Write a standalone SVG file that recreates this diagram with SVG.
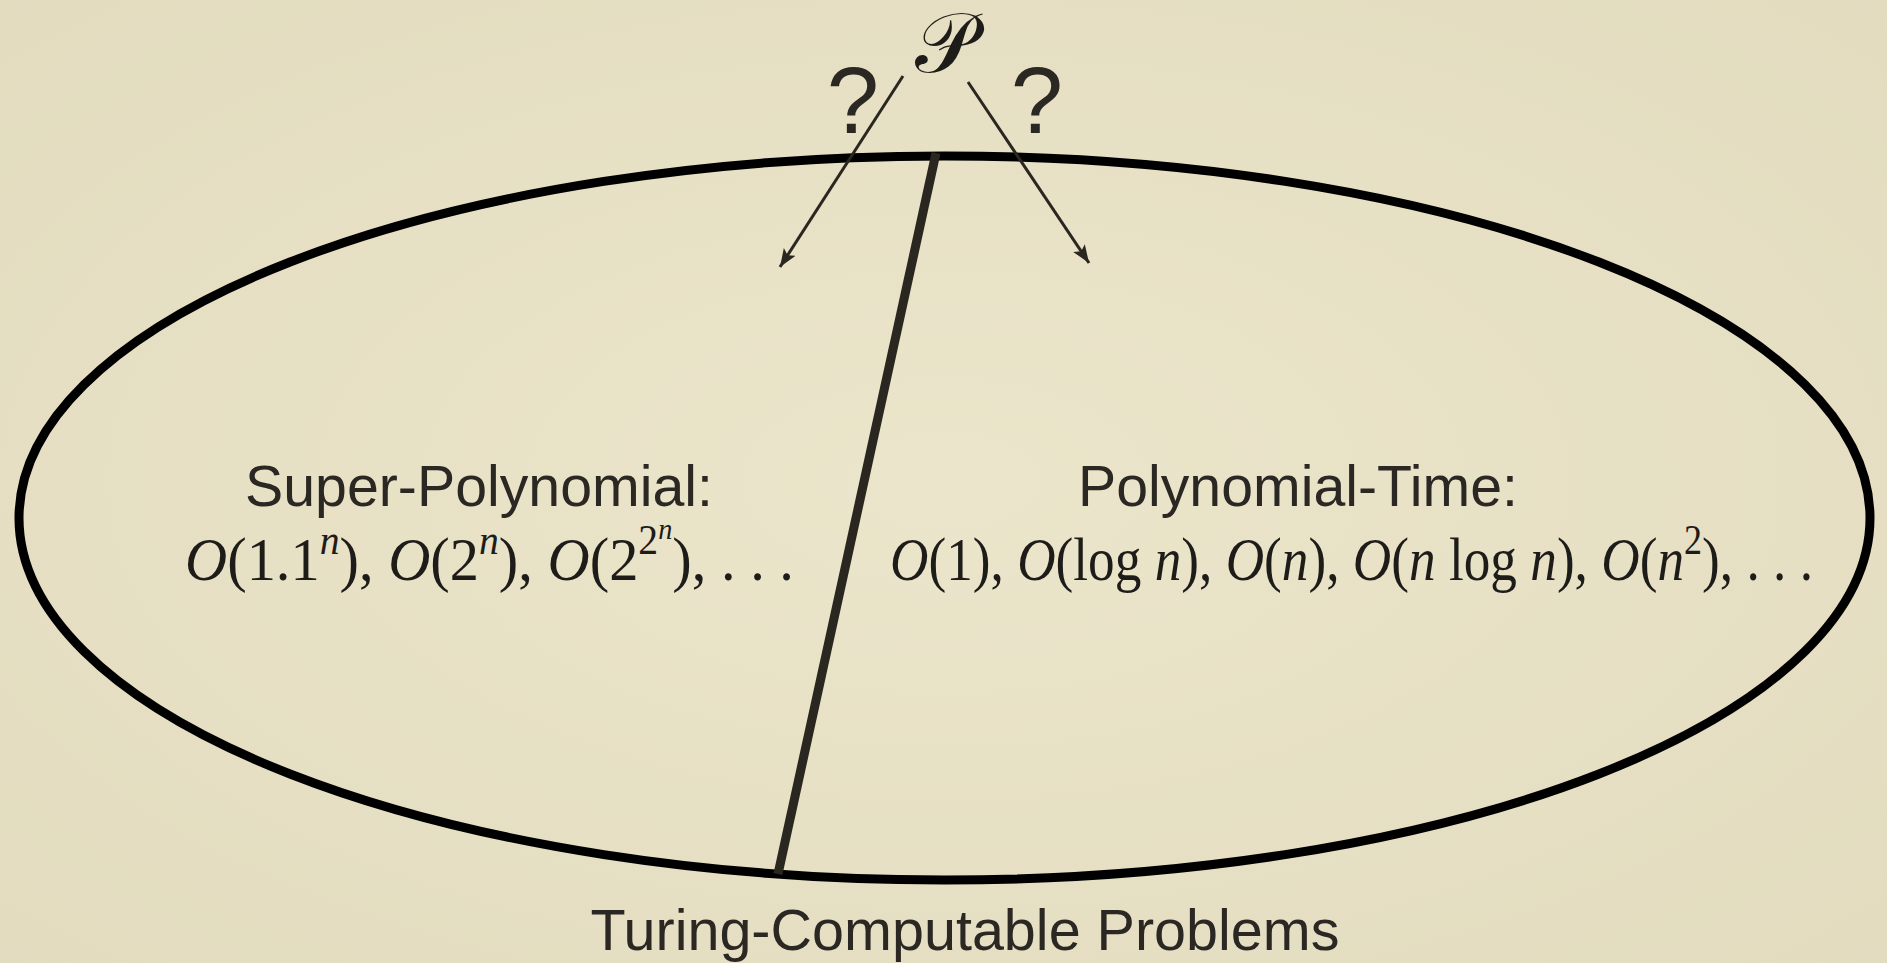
<svg xmlns="http://www.w3.org/2000/svg" width="1887" height="963" viewBox="0 0 1887 963">
<style>
.lbl{font-family:"Liberation Sans",Arial,sans-serif;font-size:57px;fill:#2b2824;text-anchor:middle}
.q{font-family:"Liberation Sans",Arial,sans-serif;font-size:94px;fill:#2b2824;text-anchor:middle}
.math{font-family:"Liberation Serif","Times New Roman",serif;font-size:62px;fill:#1e1c19}
.it{font-style:italic}
.arrow{stroke:#2a2620;stroke-width:3;fill:none}
</style>
<defs>
<radialGradient id="bg" cx="50%" cy="50%" r="75%">
<stop offset="0" stop-color="#ebe5cb"/>
<stop offset="1" stop-color="#e2dbbe"/>
</radialGradient>
<marker id="ah" markerUnits="userSpaceOnUse" markerWidth="20" markerHeight="16" viewBox="0 0 20 16" refX="18" refY="8" orient="auto">
<path d="M0,1 L18,8 L0,15 L4,8 Z" fill="#2a2620"/>
</marker>
</defs>
<rect width="1887" height="963" fill="url(#bg)"/>
<g id="turing-set">
<ellipse cx="944.5" cy="518" rx="925.5" ry="362" fill="none" stroke="#000" stroke-width="9"/>
<text class="lbl" x="965" y="950" textLength="749" lengthAdjust="spacingAndGlyphs">Turing-Computable Problems</text>
</g>
<g id="super-polynomial">
<text class="lbl" x="479" y="506" textLength="468" lengthAdjust="spacingAndGlyphs">Super-Polynomial:</text>
<text class="math" x="185" y="580" textLength="609" lengthAdjust="spacingAndGlyphs"><tspan class="it">O</tspan>(1.1<tspan class="it" font-size="42" dy="-26">n</tspan><tspan dy="26">),</tspan> <tspan class="it">O</tspan>(2<tspan class="it" font-size="42" dy="-26">n</tspan><tspan dy="26">),</tspan> <tspan class="it">O</tspan>(2<tspan font-size="42" dy="-26">2</tspan><tspan class="it" font-size="30" dy="-15">n</tspan><tspan dy="41">), . . .</tspan></text>
</g>
<g id="polynomial-time">
<text class="lbl" x="1298" y="506" textLength="440" lengthAdjust="spacingAndGlyphs">Polynomial-Time:</text>
<text class="math" x="890" y="580" textLength="923" lengthAdjust="spacingAndGlyphs"><tspan class="it">O</tspan>(1), <tspan class="it">O</tspan>(log <tspan class="it">n</tspan>), <tspan class="it">O</tspan>(<tspan class="it">n</tspan>), <tspan class="it">O</tspan>(<tspan class="it">n</tspan> log <tspan class="it">n</tspan>), <tspan class="it">O</tspan>(<tspan class="it">n</tspan><tspan font-size="42" dy="-26">2</tspan><tspan dy="26">), . . .</tspan></text>
</g>
<g id="class-P">
<text x="945" y="72" font-family="'DejaVu Serif','Liberation Serif',serif" font-size="84" fill="#1e1c19" text-anchor="middle">𝒫</text>
<text class="q" x="853" y="133">?</text>
<text class="q" x="1037" y="133">?</text>
</g>
<g id="connectors">
<line x1="936" y1="153" x2="778" y2="874" stroke="#2a2620" stroke-width="9"/>
<line class="arrow" x1="903" y1="76" x2="780" y2="267" marker-end="url(#ah)"/>
<line class="arrow" x1="968" y1="82" x2="1089" y2="263" marker-end="url(#ah)"/>
</g>
</svg>
